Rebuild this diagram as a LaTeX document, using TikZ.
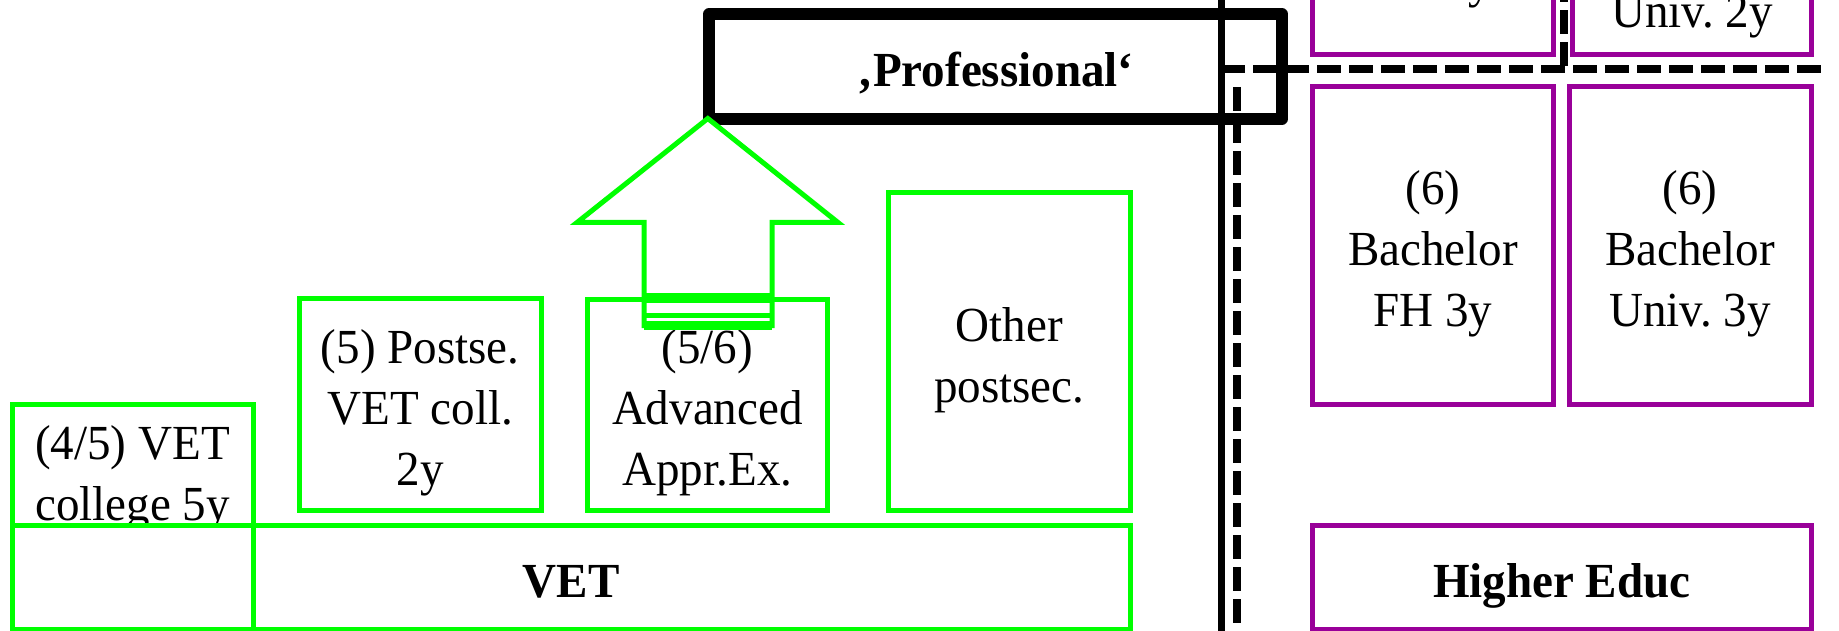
\documentclass[tikz,border=0pt]{standalone}
\usepackage{fontspec}
\setmainfont{Liberation Serif}[FakeStretch=0.96]
\frenchspacing
\definecolor{vetgreen}{RGB}{0,255,0}
\definecolor{hepurple}{RGB}{153,0,153}
\newcommand{\topstrut}{\rule{0pt}{52pt}}
\newcommand{\botstrut}{\rule[-12pt]{0pt}{12pt}}

\begin{document}
\begin{tikzpicture}
  [x=1pt,y=-1pt,
   every node/.style={inner sep=0pt,outer sep=0pt,align=flush center,
     font=\fontsize{49}{61}\selectfont,
     execute at begin node=\topstrut,execute at end node=\botstrut},
   small/.style={text width=232pt},
   wide/.style={text width=480pt},
   gbox/.style={draw=vetgreen,line width=5pt},
   pbox/.style={draw=hepurple,line width=5pt},
   dline/.style={line width=8pt,dash pattern=on 24pt off 8pt}]
  \useasboundingbox (0,0) rectangle (1839,631);
  \clip (0,0) rectangle (1839,631);

  % separators
  \draw[line width=7pt] (1221,-10) -- (1221,640);
  \draw[dline] (1221,69) -- (1821,69);
  \draw[dline] (1237,87) -- (1237,640);
  \draw[dline] (1564,66) -- (1564,-30);

  % 'Professional'
  \node[wide,draw,line width=11.5pt,line join=round,minimum width=573pt,minimum height=105pt]
    (prof) at (995.5,66.5) {\bfseries ‚Professional‘};

  % VET
  \node[small] (vetcolltxt) at (132.5,469.5) {(4/5) VET\\college 5y};
  \node[wide,gbox,fill=white,minimum width=1118.3pt,minimum height=103.3pt]
    (vet) at (571.15,577.35) {\bfseries VET};
  \node[gbox,minimum width=241pt,minimum height=224.5pt] (vetcoll) at (132.5,516.75) {};
  \node[small,gbox,minimum width=241.5pt,minimum height=211.5pt]
    (postse) at (420.25,404.25) {(5) Postse.\\VET coll.\\2y};
  \node[small,gbox,minimum width=240.7pt,minimum height=211pt]
    (advappr) at (707.35,404.5) {(5/6)\\Advanced\\Appr.Ex.};
  \node[small,gbox,minimum width=241.9pt,minimum height=317pt]
    (otherps) at (1009.35,351.5) {Other\\postsec.};

  % striped arrow
  \draw[vetgreen,line width=5pt,fill=white] (707.8,118.5) -- (838,222.5) -- (772,222.5)
    -- (772,325.5) -- (644,325.5) -- (644,222.5) -- (577,222.5) -- cycle;
  \foreach \yy/\lw in {298/10,315.5/5,325.5/9}
    \draw[vetgreen,line width=\lw pt] (644,\yy) -- (772,\yy);

  % Higher Educ
  \node[pbox,minimum width=241pt,minimum height=205pt] (topfh) at (1432.75,-47.5) {};
  \node[small] (topfhtxt) at (1433,-22) {FH 2y};
  \node[pbox,minimum width=239pt,minimum height=205pt] (topuni) at (1691.5,-47.5) {};
  \node[small] (topunitxt) at (1692,8) {Univ. 2y};
  \node[small,pbox,minimum width=241pt,minimum height=317pt]
    (bachfh) at (1433,245.5) {(6)\\Bachelor\\FH 3y};
  \node[small,pbox,minimum width=242pt,minimum height=317pt]
    (bachuni) at (1690,245.5) {(6)\\Bachelor\\Univ. 3y};
  \node[wide,pbox,minimum width=498.5pt,minimum height=103.3pt]
    (higher) at (1561.75,577.35) {\bfseries Higher Educ};

\end{tikzpicture}
\end{document}
